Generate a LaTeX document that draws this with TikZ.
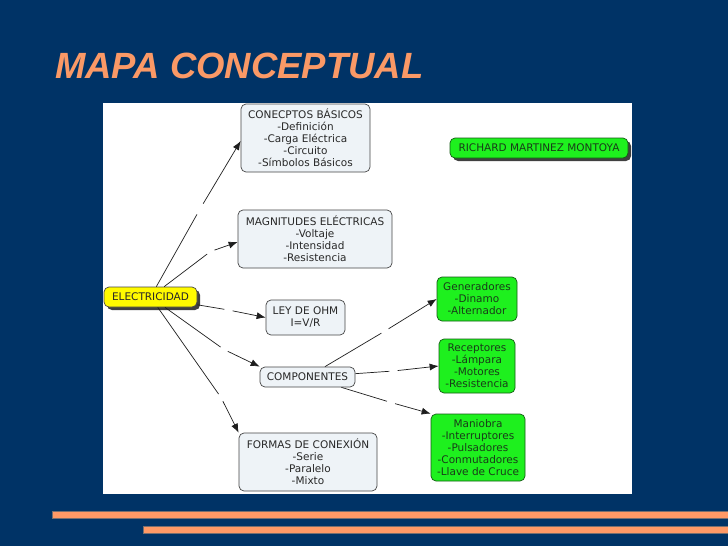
\documentclass[tikz,border=0pt]{standalone}
\usepackage{fontspec}
\setmainfont{DejaVu Sans}
\newfontfamily\titlefont{Liberation Sans}
\usetikzlibrary{arrows.meta,shadows}
\definecolor{navy}{RGB}{0,51,102}
\definecolor{titleorange}{RGB}{250,153,102}
\definecolor{barorange}{RGB}{255,153,102}
\definecolor{bargrey}{RGB}{120,110,110}
\definecolor{boxfill}{RGB}{238,243,247}
\definecolor{boxborder}{RGB}{70,70,70}
\definecolor{textgrey}{RGB}{40,40,40}
\definecolor{greenfill}{RGB}{30,240,30}
\definecolor{greenborder}{RGB}{20,90,20}
\definecolor{greentext}{RGB}{25,60,25}
\definecolor{yellowfill}{RGB}{255,250,0}
\definecolor{linecol}{RGB}{30,30,30}
\begin{document}
\begin{tikzpicture}[x=1pt,y=-1pt,
  concept/.style={draw=boxborder, fill=boxfill, rounded corners=5pt, align=center,
    text=textgrey, font=\fontsize{10.5}{12}\selectfont, inner sep=0pt, line width=0.7pt},
  greenbox/.style={concept, draw=greenborder, fill=greenfill, text=greentext},
  pill/.style={concept, drop shadow={shadow xshift=3pt, shadow yshift=-3pt, fill=black!75, opacity=1}},
  link/.style={circle, inner sep=0pt, minimum size=8pt},
  conn/.style={draw=linecol, line width=0.7pt},
  arr/.style={conn, -{Latex[length=9pt,width=7pt]}}
]
\useasboundingbox (0,0) rectangle (728,546);
\fill[navy] (0,0) rectangle (728,546);
\fill[white] (103,103) rectangle (632,494);
\draw[bargrey, fill=barorange, line width=0.6pt] (52,511) rectangle (729,518);
\draw[bargrey, fill=barorange, line width=0.6pt] (143,526) rectangle (729,533);
\node[anchor=base west, inner sep=0pt, text=titleorange,
  font=\titlefont\bfseries\itshape\fontsize{36.5}{40}\selectfont] (title) at (55,78) {MAPA CONCEPTUAL};

\node[concept, minimum width=129pt, minimum height=68pt] (concep) at (305.5,138)
  {CONECPTOS BÁSICOS\\-Definición\\-Carga Eléctrica\\-Circuito\\-Símbolos Básicos};
\node[concept, minimum width=154pt, minimum height=58pt] (magn) at (315,239)
  {MAGNITUDES ELÉCTRICAS\\-Voltaje\\-Intensidad\\-Resistencia};
\node[pill, fill=yellowfill, draw=boxborder, minimum width=93pt, minimum height=20pt] (elec) at (150.5,297)
  {ELECTRICIDAD};
\node[concept, minimum width=79pt, minimum height=35pt] (ley) at (305.5,317.5)
  {LEY DE OHM\\I=V/R};
\node[concept, minimum width=95pt, minimum height=20pt] (comp) at (307.5,377)
  {COMPONENTES};
\node[concept, minimum width=138pt, minimum height=58pt] (formas) at (308,462)
  {FORMAS DE CONEXIÓN\\-Serie\\-Paralelo\\-Mixto};
\node[pill, fill=greenfill, draw=greenborder, text=greentext, minimum width=178pt, minimum height=20pt] (richard) at (539,148)
  {RICHARD MARTINEZ MONTOYA};
\node[greenbox, minimum width=80pt, minimum height=44pt] (gen) at (477,299)
  {Generadores\\-Dinamo\\-Alternador};
\node[greenbox, minimum width=76pt, minimum height=54pt] (rec) at (477,366)
  {Receptores\\-Lámpara\\-Motores\\-Resistencia};
\node[greenbox, minimum width=94pt, minimum height=67pt] (man) at (478,447.5)
  {Maniobra\\-Interruptores\\-Pulsadores\\-Conmutadores\\-Llave de Cruce};

\node[link, minimum size=12pt] (l1) at (200,209) {};
\node[link] (l2) at (210.5,251.5) {};
\node[link] (l3) at (228.5,310) {};
\node[link] (l4) at (224,349.5) {};
\node[link] (l5) at (221,397.5) {};
\node[link] (l6) at (385,331) {};
\node[link] (l7) at (393.5,371) {};
\node[link] (l8) at (391,402.5) {};

\draw[conn] (elec) -- (l1); \draw[arr] (l1) -- ([yshift=-3pt]concep.west);
\draw[conn] (elec) -- (l2); \draw[arr] (l2) -- ([yshift=-3pt]magn.west);
\draw[conn] (elec) -- (l3); \draw[arr] (l3) -- (ley.west);
\draw[conn] (elec) -- (l4); \draw[arr] (l4) -- (comp.north west);
\draw[conn] (elec) -- (l5); \draw[arr] (l5) -- (formas.north west);
\draw[conn] (comp) -- (l6); \draw[arr] (l6) -- (gen.west);
\draw[conn] (comp) -- (l7); \draw[arr] (l7) -- (rec.west);
\draw[conn] (comp) -- (l8); \draw[arr] (l8) -- (man.north west);
\end{tikzpicture}
\end{document}
